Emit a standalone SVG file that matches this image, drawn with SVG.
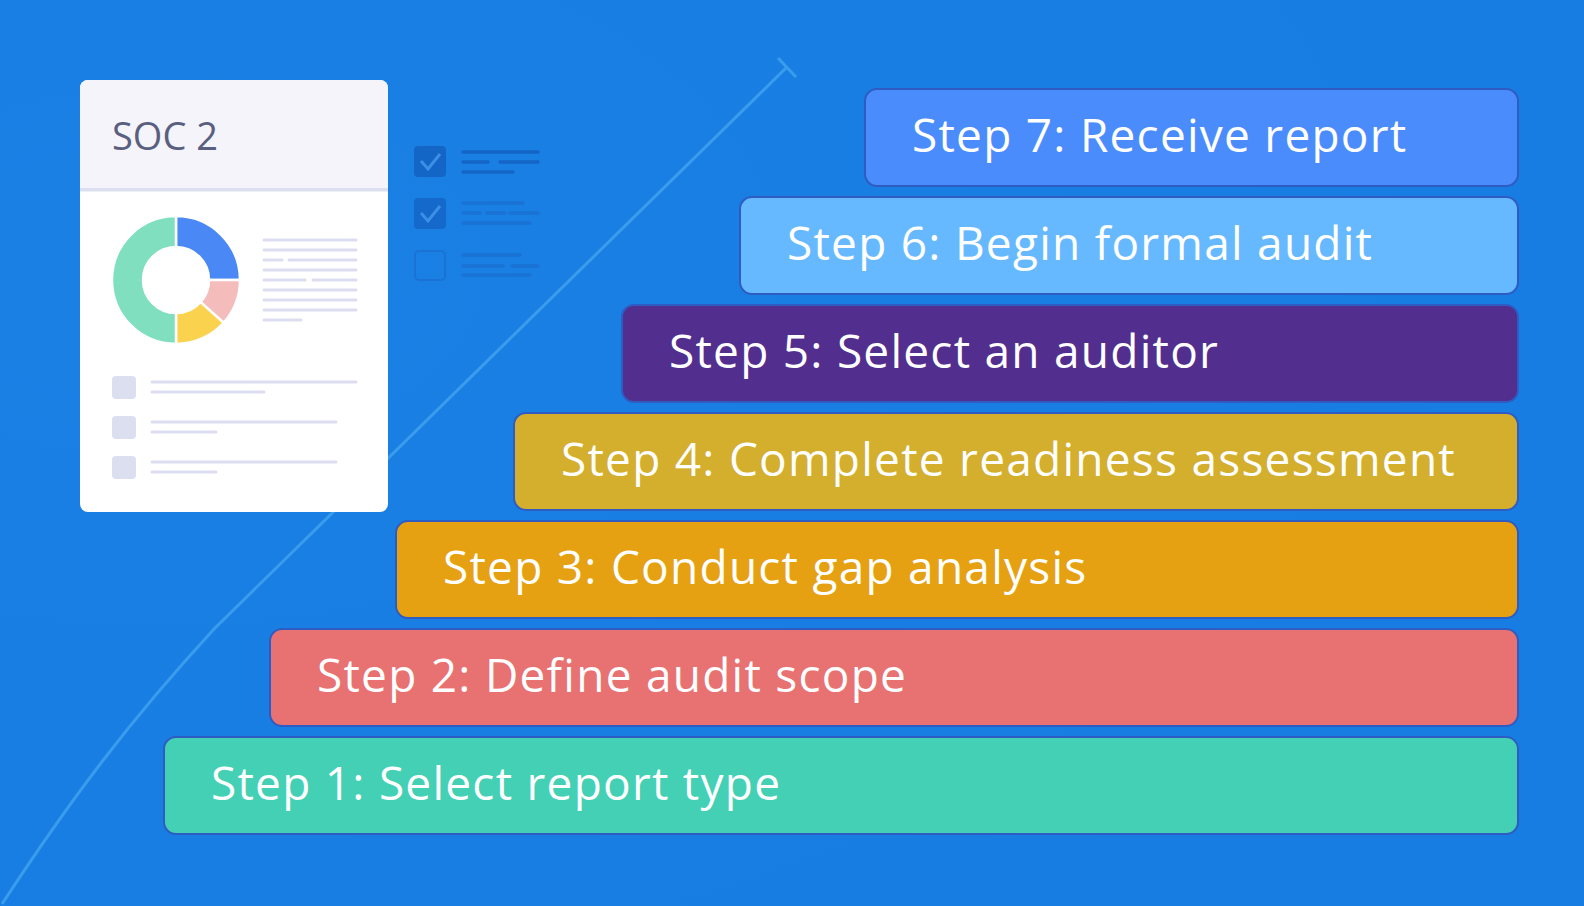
<svg xmlns="http://www.w3.org/2000/svg" width="1584" height="906" viewBox="0 0 1584 906">
<defs>
<style>
.bar{stroke:#2e5cc2;stroke-width:2}
.lbl{font-family:"Open Sans","Noto Sans","Liberation Sans",sans-serif;font-size:46px;fill:#ffffff;letter-spacing:1.25px}
.gl{stroke:#dcdef0;stroke-width:3;stroke-linecap:round}
.dl{stroke:#1466c6;stroke-width:3.5;stroke-linecap:round}
.fl{stroke:#1a72d4;stroke-width:3.5;stroke-linecap:round}
</style>
<radialGradient id="bg" cx="0.1" cy="0.3" r="0.9">
<stop offset="0" stop-color="#1b80e4"/>
<stop offset="1" stop-color="#177de2"/>
</radialGradient>
</defs>
<rect width="1584" height="906" fill="url(#bg)"/>

<g id="growth-line" fill="none" stroke="#3a9cec" stroke-width="3">
<path d="M 2 904 C 70 800 130 720 215 628 L 786 68"/>
<path d="M 778 58 L 796 77"/>
</g>

<g id="checklist">
<rect x="414" y="146" width="32" height="31" rx="4" fill="#1466c6"/>
<path d="M 421 161 L 428 169 L 440 154" fill="none" stroke="#3b8fe6" stroke-width="3"/>
<line class="dl" x1="463" y1="152" x2="538" y2="152"/>
<line class="dl" x1="463" y1="162" x2="488" y2="162"/>
<line class="dl" x1="500" y1="162" x2="538" y2="162"/>
<line class="dl" x1="463" y1="172" x2="513" y2="172"/>
<rect x="414" y="198" width="32" height="31" rx="4" fill="#1569ca"/>
<path d="M 421 213 L 428 221 L 440 206" fill="none" stroke="#3b8fe6" stroke-width="3"/>
<line class="fl" x1="463" y1="203" x2="523" y2="203"/>
<line class="fl" x1="463" y1="213" x2="480" y2="213"/>
<line class="fl" x1="487" y1="213" x2="505" y2="213"/>
<line class="fl" x1="510" y1="213" x2="538" y2="213"/>
<line class="fl" x1="463" y1="223" x2="530" y2="223"/>
<rect x="415" y="251" width="30" height="29" rx="4" fill="none" stroke="#1a72d4" stroke-width="2"/>
<line class="fl" x1="463" y1="255" x2="520" y2="255"/>
<line class="fl" x1="463" y1="266" x2="503" y2="266"/>
<line class="fl" x1="512" y1="266" x2="538" y2="266"/>
<line class="fl" x1="463" y1="275" x2="530" y2="275"/>
</g>

<g id="soc2-card">
<rect x="80" y="80" width="308" height="432" rx="8" fill="#ffffff"/>
<path d="M 88 80 H 380 A 8 8 0 0 1 388 88 V 189 H 80 V 88 A 8 8 0 0 1 88 80 Z" fill="#f4f4fa"/>
<rect x="80" y="188" width="308" height="3.5" fill="#dcdff0"/>
<text x="112" y="150" font-family="'Open Sans','Noto Sans','Liberation Sans',sans-serif" font-size="38" fill="#5a5f80">SOC 2</text>
<g id="donut" stroke="#ffffff" stroke-width="2.5">
<path d="M 176 216 A 64 64 0 0 1 240 280 L 209 280 A 33 33 0 0 0 176 247 Z" fill="#4a89f5"/>
<path d="M 240 280 A 64 64 0 0 1 223.6 322.8 L 200.5 302.1 A 33 33 0 0 0 209 280 Z" fill="#f5bcbc"/>
<path d="M 223.6 322.8 A 64 64 0 0 1 176 344 L 176 313 A 33 33 0 0 0 200.5 302.1 Z" fill="#fbd24e"/>
<path d="M 176 344 A 64 64 0 0 1 176 216 L 176 247 A 33 33 0 0 0 176 313 Z" fill="#7fdfbf"/>
</g>
<line class="gl" x1="264" y1="240" x2="356" y2="240"/>
<line class="gl" x1="264" y1="250" x2="356" y2="250"/>
<line class="gl" x1="264" y1="260" x2="282" y2="260"/>
<line class="gl" x1="289" y1="260" x2="356" y2="260"/>
<line class="gl" x1="264" y1="270" x2="356" y2="270"/>
<line class="gl" x1="264" y1="280" x2="305" y2="280"/>
<line class="gl" x1="313" y1="280" x2="356" y2="280"/>
<line class="gl" x1="264" y1="290" x2="356" y2="290"/>
<line class="gl" x1="264" y1="300" x2="356" y2="300"/>
<line class="gl" x1="264" y1="310" x2="356" y2="310"/>
<line class="gl" x1="264" y1="320" x2="301" y2="320"/>
<rect x="112" y="376" width="24" height="23" rx="4" fill="#dcdff0"/>
<rect x="112" y="416" width="24" height="23" rx="4" fill="#dcdff0"/>
<rect x="112" y="456" width="24" height="23" rx="4" fill="#dcdff0"/>
<line class="gl" x1="152" y1="382" x2="356" y2="382"/>
<line class="gl" x1="152" y1="392" x2="264" y2="392"/>
<line class="gl" x1="152" y1="422" x2="336" y2="422"/>
<line class="gl" x1="152" y1="432" x2="216" y2="432"/>
<line class="gl" x1="152" y1="462" x2="336" y2="462"/>
<line class="gl" x1="152" y1="472" x2="216" y2="472"/>
</g>

<g id="step7"><rect class="bar" x="865" y="89" width="653" height="97" rx="12" fill="#4b8cfd"/><text class="lbl" x="912" y="152">Step 7: Receive report</text></g>
<g id="step6"><rect class="bar" x="740" y="197" width="778" height="97" rx="12" fill="#66b9ff"/><text class="lbl" x="787" y="260">Step 6: Begin formal audit</text></g>
<g id="step5"><rect class="bar" x="622" y="305" width="896" height="97" rx="12" fill="#522e8f"/><text class="lbl" x="669" y="368">Step 5: Select an auditor</text></g>
<g id="step4"><rect class="bar" x="514" y="413" width="1004" height="97" rx="12" fill="#d4ae2d"/><text class="lbl" x="561" y="476">Step 4: Complete readiness assessment</text></g>
<g id="step3"><rect class="bar" x="396" y="521" width="1122" height="97" rx="12" fill="#e6a112"/><text class="lbl" x="443" y="584">Step 3: Conduct gap analysis</text></g>
<g id="step2"><rect class="bar" x="270" y="629" width="1248" height="97" rx="12" fill="#e87171"/><text class="lbl" x="317" y="692">Step 2: Define audit scope</text></g>
<g id="step1"><rect class="bar" x="164" y="737" width="1354" height="97" rx="12" fill="#43d0b5"/><text class="lbl" x="211" y="800">Step 1: Select report type</text></g>
</svg>
